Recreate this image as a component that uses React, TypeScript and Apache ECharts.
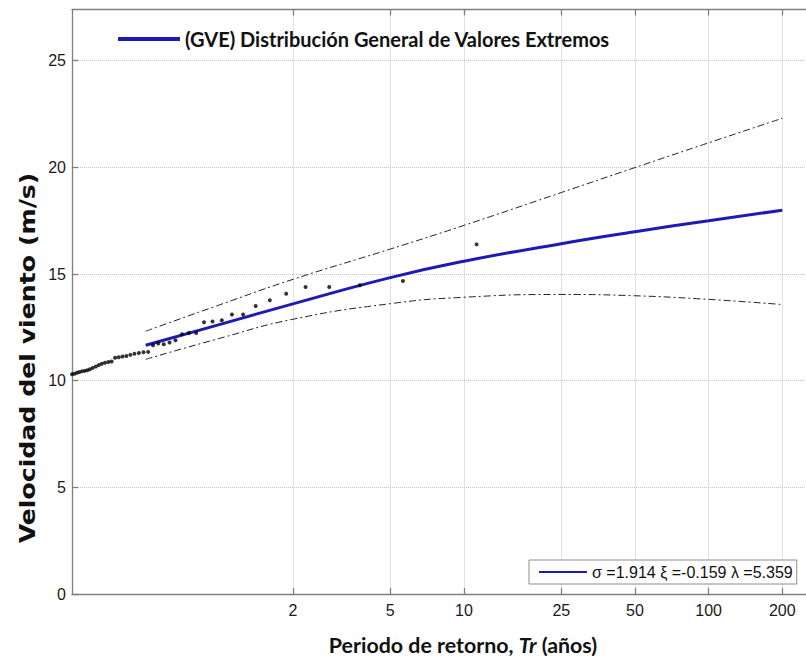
import React, { useEffect, useRef } from "react";
import * as echarts from "echarts";

// Return-period tick labels (years) and wind-speed ticks (m/s)
const xTicks = [2, 5, 10, 25, 50, 100, 200];
const yTicks = [0, 5, 10, 15, 20, 25];

// Observed annual maxima: return period (years) and wind speed (m/s)
const obsT = [
  0.25, 0.256, 0.262, 0.268, 0.275, 0.282, 0.289, 0.296, 0.304, 0.313, 0.322, 0.331,
  0.341, 0.352, 0.363, 0.375, 0.388, 0.402, 0.417, 0.433, 0.45, 0.469, 0.49, 0.512,
  0.536, 0.563, 0.593, 0.626, 0.662, 0.704, 0.751, 0.804, 0.866, 0.938, 1.024, 1.126,
  1.251, 1.408, 1.609, 1.877, 2.252, 2.815, 3.753, 5.63, 11.26,
];
const obsV = [
  10.3, 10.32, 10.37, 10.41, 10.44, 10.46, 10.49, 10.54, 10.6, 10.66, 10.73, 10.79,
  10.84, 10.88, 10.9, 11.07, 11.1, 11.13, 11.16, 11.21, 11.26, 11.3, 11.33, 11.35,
  11.66, 11.74, 11.71, 11.79, 11.9, 12.18, 12.24, 12.24, 12.74, 12.77, 12.83, 13.1,
  13.1, 13.5, 13.77, 14.08, 14.39, 14.39, 14.47, 14.67, 16.39,
];

// Fitted GEV curve
const gevT = [0.5, 1, 2, 5, 10, 25, 50, 100, 200];
const gevV = [11.66, 12.63, 13.6, 14.83, 15.6, 16.42, 16.98, 17.5, 17.99];

// Confidence bounds
const upT = [0.5, 1, 2, 5, 10, 25, 50, 100, 200];
const upV = [12.32, 13.55, 14.75, 16.17, 17.28, 18.82, 19.99, 21.15, 22.3];
const loT = [0.5, 1, 2, 5, 10, 25, 50, 100, 200];
const loV = [11.0, 11.98, 12.88, 13.61, 13.91, 14.04, 13.98, 13.81, 13.57];

const GEV_NAME = "(GVE) Distribución General de Valores Extremos";
const PARAM_TEXT = "σ =1.914 ξ =-0.159 λ =5.359";

const zip = (a: number[], b: number[]) => a.map((t, i) => [t, b[i]]);

const AXIS_COLOR = "#7f7f7f";
const GRID_COLOR = "#c4c4c4";
const BLUE = "#1c1cb4";

export default function App() {
  const ref = useRef<HTMLDivElement>(null);
  useEffect(() => {
    if (!ref.current) return;
    const chart = echarts.init(ref.current, null, { renderer: "svg" });
    const axisLine = { show: true, lineStyle: { color: AXIS_COLOR, width: 1.3 } };
    chart.setOption({
      animation: false,
      backgroundColor: "#ffffff",
      grid: { left: 72, top: 9.5, width: 740.5, height: 584.5, containLabel: false },
      xAxis: [
        {
          type: "log",
          logBase: 10,
          min: 0.25,
          max: 250,
          position: "bottom",
          axisLine,
          axisTick: { show: true, inside: true, length: 6, customValues: xTicks, lineStyle: { color: AXIS_COLOR, width: 1.3 } },
          axisLabel: {
            customValues: xTicks,
            formatter: (v: number) => String(Math.round(v)),
            color: "#1a1a1a",
            fontFamily: "Liberation Sans",
            fontSize: 16,
            margin: 8,
          },
          splitLine: { show: true, lineStyle: { color: GRID_COLOR, type: "dotted", width: 1 } },
          minorTick: { show: false },
          minorSplitLine: { show: false },
        },
        {
          type: "log",
          logBase: 10,
          min: 0.25,
          max: 250,
          position: "top",
          axisLine,
          axisTick: { show: true, inside: true, length: 6, customValues: xTicks, lineStyle: { color: AXIS_COLOR, width: 1.3 } },
          axisLabel: { show: false },
          splitLine: { show: false },
        },
      ],
      yAxis: [
        {
          type: "value",
          min: 0,
          max: 27.4,
          position: "left",
          axisLine,
          axisTick: { show: true, inside: true, length: 6, customValues: yTicks, lineStyle: { color: AXIS_COLOR, width: 1.3 } },
          axisLabel: {
            customValues: yTicks,
            color: "#1a1a1a",
            fontFamily: "Liberation Sans",
            fontSize: 16,
            margin: 6,
          },
          splitLine: { show: true, lineStyle: { color: GRID_COLOR, type: "dotted", width: 1 } },
        },
      ],
      legend: [
        {
          show: true,
          selectedMode: false,
          data: [GEV_NAME],
          left: 118,
          top: 29,
          padding: 0,
          icon: "rect",
          itemWidth: 62,
          itemHeight: 4,
          textStyle: { fontFamily: "Lato", fontWeight: "bold", fontSize: 20, color: "#111" },
        },
        {
          show: true,
          selectedMode: false,
          data: [GEV_NAME],
          formatter: () => PARAM_TEXT,
          left: 529,
          top: 560,
          padding: [4, 4, 4, 10],
          backgroundColor: "#fff",
          borderColor: "#8c8c8c",
          borderWidth: 1,
          icon: "rect",
          itemWidth: 48,
          itemHeight: 2,
          textStyle: { fontFamily: "Liberation Sans", fontSize: 16, color: "#111" },
        },
      ],
      graphic: [
        {
          type: "text",
          x: 463,
          y: 645,
          scaleX: 1.07,
          style: {
            text: "{b|Periodo de retorno, }{i|Tr}{b| (años)}",
            rich: {
              b: { fontFamily: "Lato", fontWeight: "bold", fontSize: 20, fill: "#111", color: "#111" },
              i: { fontFamily: "Lato", fontWeight: "bold", fontStyle: "italic", fontSize: 20, fill: "#111", color: "#111" },
            },
            align: "center",
            textAlign: "center",
            verticalAlign: "middle",
            textVerticalAlign: "middle",
          },
        },
        {
          type: "text",
          x: 27,
          y: 358,
          rotation: Math.PI / 2,
          scaleX: 1.2,
          style: {
            text: "Velocidad del viento (m/s)",
            font: 'bold 21px "DejaVu Sans"',
            fill: "#111",
            align: "center",
            textAlign: "center",
            verticalAlign: "middle",
            textVerticalAlign: "middle",
          },
        },
      ],
      series: [
        {
          type: "line",
          name: "upper",
          data: zip(upT, upV),
          smooth: true,
          symbol: "none",
          lineStyle: { color: "#222", width: 1, type: [7, 3, 2, 3] },
          z: 2,
        },
        {
          type: "line",
          name: "lower",
          data: zip(loT, loV),
          smooth: true,
          symbol: "none",
          lineStyle: { color: "#222", width: 1, type: [7, 3, 2, 3] },
          z: 2,
        },
        {
          type: "line",
          name: GEV_NAME,
          data: zip(gevT, gevV),
          smooth: true,
          symbol: "none",
          itemStyle: { color: BLUE },
          lineStyle: { color: BLUE, width: 3 },
          z: 3,
        },
        {
          type: "scatter",
          name: "obs",
          data: zip(obsT, obsV),
          symbolSize: 4,
          itemStyle: { color: "#000" },
          z: 4,
        },
      ],
    });
    return () => chart.dispose();
  }, []);
  return (
    <div
      ref={ref}
      style={{ position: "absolute", left: 0, top: 0, width: 806, height: 656 }}
    />
  );
}
